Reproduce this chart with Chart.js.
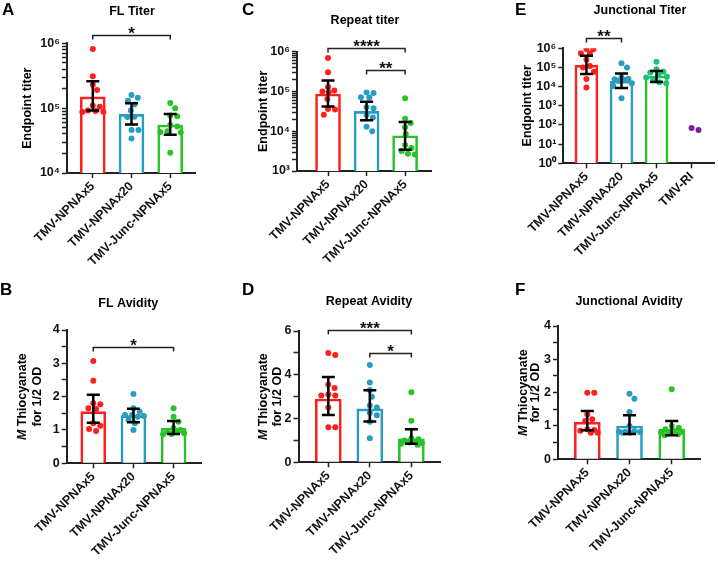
<!DOCTYPE html>
<html>
<head>
<meta charset="utf-8">
<script src="https://cdn.jsdelivr.net/npm/chart.js@4.4.1/dist/chart.umd.min.js"></script>
<style>
  body { margin: 0; background: #fff; }
  #fig { position: relative; width: 718px; height: 562px; overflow: hidden; }
  #fig canvas { position: absolute; }
</style>
</head>
<body>
<div id="fig"></div>
<script>
// ---- data ----
const groups = ['TMV-NPNAx5', 'TMV-NPNAx20', 'TMV-Junc-NPNAx5'];
const groupsE = ['TMV-NPNAx5', 'TMV-NPNAx20', 'TMV-Junc-NPNAx5', 'TMV-RI'];

// A - FL titer
const flTiterX5 = [8.2e5, 3.1e5, 2.3e5, 1.9e5, 1.1e5, 1.05e5, 9.2e4, 9.0e4, 8.8e4, 8.7e4];
const flTiterX20 = [1.6e5, 1.45e5, 1.3e5, 1.14e5, 9.2e4, 7.4e4, 7.3e4, 4.6e4, 4.6e4, 3.4e4];
const flTiterJunc = [1.2e5, 1.0e5, 7.7e4, 7.5e4, 5.5e4, 5.2e4, 4.4e4, 4.3e4, 4.2e4, 2.05e4];
const flTiterMean = [1.49e5, 8.0e4, 5.5e4];
const flTiterLo = [9.2e4, 5.6e4, 3.9e4];
const flTiterHi = [2.6e5, 1.19e5, 8.1e4];

// C - repeat titer
const repTiterX5 = [6.9e5, 3.05e5, 1.3e5, 1.06e5, 1.0e5, 9.6e4, 6.5e4, 3.6e4, 3.5e4, 2.6e4];
const repTiterX20 = [9.4e4, 9.1e4, 7.2e4, 7.1e4, 4.0e4, 3.8e4, 2.6e4, 2.2e4, 1.3e4, 1.0e4];
const repTiterJunc = [6.8e4, 2.05e4, 1.6e4, 1.26e4, 8.5e3, 4.5e3, 3.8e3, 3.2e3, 2.7e3, 2.6e3];
const repTiterMean = [8.6e4, 3.15e4, 7.7e3];
const repTiterLo = [4.2e4, 1.9e4, 3.4e3];
const repTiterHi = [1.9e5, 5.5e4, 1.7e4];

// E - junctional titer
const junTiterX5 = [9.2e5, 8.8e5, 5.5e5, 5.3e5, 2.5e5, 1.2e5, 1.0e5, 6.0e4, 2.5e4, 9.0e3];
const junTiterX20 = [1.65e5, 1.0e5, 3.0e4, 2.6e4, 2.4e4, 2.2e4, 2.0e4, 1.5e4, 1.07e4, 2.5e3];
const junTiterJunc = [2.0e5, 8.0e4, 6.0e4, 5.5e4, 4.0e4, 3.3e4, 3.0e4, 2.4e4, 1.7e4, 1.5e4];
const junTiterRI = [55, 70];
const junTiterMean = [1.3e5, 1.9e4, 3.6e4];
const junTiterLo = [4.6e4, 8.5e3, 1.75e4];
const junTiterHi = [4.1e5, 4.8e4, 6.6e4];

// B - FL avidity
const flAvidX5 = [3.07, 2.48, 1.8, 1.77, 1.65, 1.63, 1.2, 1.13, 1.03, 0.97];
const flAvidX20 = [2.08, 1.65, 1.55, 1.45, 1.45, 1.42, 1.4, 1.3, 1.2, 1.0];
const flAvidJunc = [1.65, 1.4, 1.25, 1.05, 1.0, 0.95, 0.93, 0.9, 0.88, 0.87];
const flAvidMean = [1.55, 1.43, 1.05];
const flAvidLo = [1.22, 1.23, 0.88];
const flAvidHi = [2.06, 1.64, 1.27];

// D - repeat avidity
const repAvidX5 = [5.0, 4.9, 3.55, 3.4, 3.1, 3.05, 3.05, 2.5, 1.6, 1.6];
const repAvidX20 = [4.45, 3.65, 3.3, 3.0, 2.6, 2.5, 2.25, 2.15, 1.85, 1.1];
const repAvidJunc = [3.2, 1.9, 1.1, 1.05, 1.0, 0.95, 0.9, 0.88, 0.85, 0.8];
const repAvidMean = [2.89, 2.44, 1.07];
const repAvidLo = [2.16, 1.86, 0.85];
const repAvidHi = [3.9, 3.29, 1.51];

// F - junctional avidity
const junAvidX5 = [2.0, 2.0, 1.35, 1.2, 1.15, 0.9, 0.88, 0.86, 0.8, 0.8];
const junAvidX20 = [1.97, 1.82, 1.42, 1.0, 0.85, 0.83, 0.83, 0.82, 0.8, 0.8];
const junAvidJunc = [2.1, 1.0, 0.95, 0.9, 0.85, 0.83, 0.8, 0.78, 0.75, 0.72];
const junAvidMean = [1.11, 1.0, 0.9];
const junAvidLo = [0.87, 0.76, 0.72];
const junAvidHi = [1.45, 1.32, 1.15];

// tick labels
const ticksA = [1e4, 1e5, 1e6];
const ticksC = [1e3, 1e4, 1e5, 1e6];
const ticksE = [1e0, 1e1, 1e2, 1e3, 1e4, 1e5, 1e6];
const ticksAvid4 = [0, 1, 2, 3, 4];
const ticksAvid6 = [0, 2, 4, 6];

// ---- styling ----
const RED = '#ff1f1f', BLUE = '#2a9cc0', GREEN = '#27c427', TEAL = '#1fc27a', PURPLE = '#7b1fa2';
const FONT = "'Liberation Sans', Arial, sans-serif";
const SUP = ['\u2070', '\u00b9', '\u00b2', '\u00b3', '\u2074', '\u2075', '\u2076'];
const R = 3;

function minorLog(decades) {
    const out = [];
    for (let i = 0; i < decades.length - 1; i++) {
        for (let k = 1; k < 10; k++) out.push(decades[i] * k);
    }
    out.push(decades[decades.length - 1]);
    return out;
}
function steps(labels, step) {
    const out = [];
    for (let v = labels[0]; v <= labels[labels.length - 1] + 1e-9; v += step) out.push(+v.toFixed(3));
    return out;
}

// beeswarm: push points sideways (within the bar) so they overlap less
function swarm(vals, center, frac, plotH, unitPx) {
    const placed = [];
    const order = vals.map((v, i) => i).sort((a, b) => vals[b] - vals[a]);
    const out = new Array(vals.length);
    const need = 2 * R + 0.8, maxOff = 11;
    for (const i of order) {
        const py = frac(vals[i]) * plotH;
        let best = 0, bestD = -1, px = null;
        for (let n = 0; ; n++) {
            const c = (n % 2 ? 1 : -1) * Math.ceil(n / 2) * 0.7;
            if (Math.abs(c) > maxOff) break;
            const d = placed.length ? Math.min(...placed.map(p => Math.hypot(p.px - c, p.py - py))) : 99;
            if (d >= need) { px = c; break; }
            if (d > bestD) { bestD = d; best = c; }
        }
        if (px === null) px = best;
        placed.push({ px, py });
        out[i] = { x: center + px / unitPx, y: vals[i] };
    }
    return out;
}

function makeDecor(p) {
    return {
        id: 'decor',
        afterDatasetsDraw(chart) {
            const { ctx, scales: { x, y } } = chart;
            ctx.save();
            ctx.strokeStyle = '#000';
            ctx.lineWidth = 2.5;
            p.lo.forEach((lo, i) => {
                const px = x.getPixelForValue(i + 1);
                const pl = y.getPixelForValue(lo), ph = y.getPixelForValue(p.hi[i]);
                ctx.beginPath();
                ctx.moveTo(px, pl); ctx.lineTo(px, ph);
                ctx.moveTo(px - 6.5, pl); ctx.lineTo(px + 6.5, pl);
                ctx.moveTo(px - 6.5, ph); ctx.lineTo(px + 6.5, ph);
                ctx.stroke();
            });
            ctx.restore();
        },
        afterDraw(chart) {
            const { ctx, scales: { x, y }, chartArea } = chart;
            const bx = p.box.x, by = p.box.y;
            ctx.save();
            // significance brackets
            (p.brackets || []).forEach(br => {
                const x1 = x.getPixelForValue(br.from), x2 = x.getPixelForValue(br.to);
                const yy = Math.round(y.getPixelForValue(br.y)) + 0.5;
                ctx.strokeStyle = '#222';
                ctx.lineWidth = 1.5;
                ctx.beginPath();
                ctx.moveTo(x1, yy + 4); ctx.lineTo(x1, yy); ctx.lineTo(x2, yy); ctx.lineTo(x2, yy + 4);
                ctx.stroke();
                ctx.fillStyle = '#111';
                ctx.font = 'bold 17px ' + FONT;
                ctx.textAlign = 'center';
                ctx.textBaseline = 'alphabetic';
                ctx.fillText(br.label, (x1 + x2) / 2, yy + 3);
            });
            // panel title
            ctx.fillStyle = '#000';
            ctx.font = 'bold 12.5px ' + FONT;
            ctx.textAlign = 'center';
            ctx.textBaseline = 'middle';
            ctx.fillText(p.title.text, p.title.x - bx, p.title.y - by);
            // panel letter
            ctx.font = 'bold 17px ' + FONT;
            ctx.textAlign = 'left';
            ctx.textBaseline = 'alphabetic';
            ctx.fillText(p.letter.text, p.letter.x - bx, p.letter.y - by);
            // y axis title
            const cy = (chartArea.top + chartArea.bottom) / 2;
            p.yTitle.forEach((line, li) => {
                ctx.save();
                ctx.translate(p.yTitleX[li] - bx, cy);
                ctx.rotate(-Math.PI / 2);
                ctx.textBaseline = 'middle';
                ctx.textAlign = 'left';
                const bold = 'bold 12.5px ' + FONT, ital = 'italic bold 12.5px ' + FONT;
                if (line.startsWith('M ')) {
                    ctx.font = ital;
                    const wM = ctx.measureText('M').width;
                    ctx.font = bold;
                    const rest = line.slice(1);
                    const wR = ctx.measureText(rest).width;
                    const x0 = -(wM + wR) / 2;
                    ctx.font = ital;
                    ctx.fillText('M', x0, 0);
                    ctx.font = bold;
                    ctx.fillText(rest, x0 + wM, 0);
                } else {
                    ctx.font = bold;
                    ctx.textAlign = 'center';
                    ctx.fillText(line, 0, 0);
                }
                ctx.restore();
            });
            ctx.restore();
        }
    };
}

function makePanel(p) {
    const fig = document.getElementById('fig');
    const cv = document.createElement('canvas');
    cv.width = p.box.w; cv.height = p.box.h;
    cv.style.left = p.box.x + 'px';
    cv.style.top = p.box.y + 'px';
    cv.style.width = p.box.w + 'px';
    cv.style.height = p.box.h + 'px';
    fig.appendChild(cv);

    const a = p.area, b = p.box;
    const YW = 40;
    const XH = b.y + b.h - a.b - 2;
    const plotH = a.b - a.t;
    const unitPx = (a.r - a.l) / (p.xMax - p.xMin);
    const frac = p.log
        ? v => (Math.log10(v) - Math.log10(p.yMin)) / (Math.log10(p.yMax) - Math.log10(p.yMin))
        : v => (v - p.yMin) / (p.yMax - p.yMin);

    const datasets = [{
        type: 'bar',
        order: 3,
        data: p.mean.map((v, i) => ({ x: i + 1, y: v })),
        backgroundColor: '#ffffff',
        borderColor: p.barColors,
        borderWidth: 2.6,
        barThickness: p.barW
    }];
    p.points.forEach((vals, i) => {
        datasets.push({
            type: 'scatter',
            order: 1,
            data: swarm(vals, i + 1, frac, plotH, unitPx),
            backgroundColor: p.ptColors[i],
            borderWidth: 0,
            pointRadius: R
        });
    });

    const tickFont = { family: FONT, size: 12.5, weight: 'bold' };
    const yLabels = p.yLabels;
    const allTicks = p.log ? (p.decadesOnly ? yLabels : minorLog(yLabels)) : steps(yLabels, p.yMinorStep);

    return new Chart(cv, {
        type: 'bar',
        data: { datasets },
        plugins: [makeDecor(p)],
        options: {
            responsive: false,
            animation: false,
            events: [],
            layout: {
                padding: {
                    left: a.l - b.x - YW,
                    right: b.x + b.w - a.r,
                    top: a.t - b.y,
                    bottom: 2
                }
            },
            plugins: { legend: { display: false }, tooltip: { enabled: false }, title: { display: false } },
            scales: {
                x: {
                    type: 'linear',
                    min: p.xMin,
                    max: p.xMax,
                    offset: false,
                    afterBuildTicks: s => { s.ticks = p.cats.map((c, i) => ({ value: i + 1 })); },
                    afterFit: s => { s.height = XH; },
                    ticks: {
                        callback: v => p.cats[Math.round(v) - 1],
                        minRotation: 45, maxRotation: 45,
                        autoSkip: false,
                        font: tickFont,
                        color: '#111',
                        padding: 1
                    },
                    grid: { display: true, offset: false, drawOnChartArea: false, drawTicks: true, tickLength: 5, tickColor: '#222', tickWidth: 1.5 },
                    border: { display: true, color: '#222', width: 2 }
                },
                y: {
                    type: p.log ? 'logarithmic' : 'linear',
                    min: p.yMin,
                    max: p.yMax,
                    afterBuildTicks: s => { s.ticks = allTicks.map(v => ({ value: v })); },
                    afterFit: s => { s.width = YW; },
                    ticks: {
                        autoSkip: false,
                        font: tickFont,
                        color: '#111',
                        padding: 2,
                        callback: v => {
                            if (p.log) {
                                const e = Math.round(Math.log10(v));
                                return yLabels.some(t => Math.abs(t - v) < v * 1e-6) ? '10' + SUP[e] : '';
                            }
                            return yLabels.some(t => Math.abs(t - v) < 1e-6) ? String(v) : '';
                        }
                    },
                    grid: { display: true, drawOnChartArea: false, drawTicks: true, tickLength: 5, tickColor: '#222', tickWidth: 1.5 },
                    border: { display: true, color: '#222', width: 2 }
                }
            }
        }
    });
}

const BAR3 = [RED, BLUE, GREEN];
const titerTitle = ['Endpoint titer'];
const avidTitle = ['M Thiocyanate', 'for 1/2 OD'];

// A
makePanel({
    box: { x: 0, y: 0, w: 230, h: 280 }, area: { l: 67, r: 195, t: 43.3, b: 173 },
    xMin: 0.334, xMax: 3.64, log: true, yMin: 1e4, yMax: 1e6, yLabels: ticksA,
    cats: groups, mean: flTiterMean, lo: flTiterLo, hi: flTiterHi,
    points: [flTiterX5, flTiterX20, flTiterJunc], ptColors: BAR3, barColors: BAR3, barW: 25,
    brackets: [{ from: 1, to: 3, y: 1.34e6, label: '*' }],
    title: { text: 'FL Titer', x: 132, y: 12 }, letter: { text: 'A', x: 2, y: 14.5 },
    yTitle: titerTitle, yTitleX: [28]
});
// C
makePanel({
    box: { x: 230, y: 0, w: 235, h: 280 }, area: { l: 297, r: 431.7, t: 51.7, b: 171 },
    xMin: 0.195, xMax: 3.69, log: true, yMin: 1e3, yMax: 1e6, yLabels: ticksC,
    cats: groups, mean: repTiterMean, lo: repTiterLo, hi: repTiterHi,
    points: [repTiterX5, repTiterX20, repTiterJunc], ptColors: BAR3, barColors: BAR3, barW: 25,
    brackets: [{ from: 1, to: 3, y: 1.24e6, label: '****' }, { from: 2, to: 3, y: 3.5e5, label: '**' }],
    title: { text: 'Repeat titer', x: 365, y: 20.7 }, letter: { text: 'C', x: 242, y: 15 },
    yTitle: titerTitle, yTitleX: [263.3]
});
// E
makePanel({
    box: { x: 465, y: 0, w: 253, h: 280 }, area: { l: 563.3, r: 716, t: 48.3, b: 163.3 },
    xMin: 0.34, xMax: 4.64, log: true, yMin: 1e0, yMax: 1e6, yLabels: ticksE,
    cats: groupsE, mean: junTiterMean, lo: junTiterLo, hi: junTiterHi,
    points: [junTiterX5, junTiterX20, junTiterJunc, junTiterRI], ptColors: [RED, BLUE, TEAL, PURPLE], barColors: BAR3, barW: 23,
    brackets: [{ from: 1, to: 2, y: 3.3e6, label: '**' }],
    title: { text: 'Junctional Titer', x: 640, y: 10.7 }, letter: { text: 'E', x: 515, y: 15 },
    yTitle: titerTitle, yTitleX: [528], decadesOnly: true
});
// B
makePanel({
    box: { x: 0, y: 280, w: 230, h: 282 }, area: { l: 66.7, r: 201.7, t: 330, b: 463.3 },
    xMin: 0.338, xMax: 3.70, log: false, yMin: 0, yMax: 4, yLabels: ticksAvid4, yMinorStep: 0.5,
    cats: groups, mean: flAvidMean, lo: flAvidLo, hi: flAvidHi,
    points: [flAvidX5, flAvidX20, flAvidJunc], ptColors: BAR3, barColors: BAR3, barW: 25,
    brackets: [{ from: 1, to: 3, y: 3.5, label: '*' }],
    title: { text: 'FL Avidity', x: 128.3, y: 304 }, letter: { text: 'B', x: 0, y: 295 },
    yTitle: avidTitle, yTitleX: [22.7, 37.3]
});
// D
makePanel({
    box: { x: 230, y: 280, w: 235, h: 282 }, area: { l: 298.5, r: 440, t: 331, b: 462.3 },
    xMin: 0.282, xMax: 3.69, log: false, yMin: 0, yMax: 6, yLabels: ticksAvid6, yMinorStep: 1,
    cats: groups, mean: repAvidMean, lo: repAvidLo, hi: repAvidHi,
    points: [repAvidX5, repAvidX20, repAvidJunc], ptColors: BAR3, barColors: BAR3, barW: 26,
    brackets: [{ from: 1, to: 3, y: 6.05, label: '***' }, { from: 2, to: 3, y: 5.0, label: '*' }],
    title: { text: 'Repeat Avidity', x: 369, y: 302 }, letter: { text: 'D', x: 242, y: 295 },
    yTitle: avidTitle, yTitleX: [263.3, 277.7]
});
// F
makePanel({
    box: { x: 465, y: 280, w: 253, h: 282 }, area: { l: 558, r: 700, t: 326, b: 459.3 },
    xMin: 0.306, xMax: 3.67, log: false, yMin: 0, yMax: 4, yLabels: ticksAvid4, yMinorStep: 0.5,
    cats: groups, mean: junAvidMean, lo: junAvidLo, hi: junAvidHi,
    points: [junAvidX5, junAvidX20, junAvidJunc], ptColors: BAR3, barColors: BAR3, barW: 26,
    brackets: [],
    title: { text: 'Junctional Avidity', x: 629, y: 302 }, letter: { text: 'F', x: 515, y: 295 },
    yTitle: avidTitle, yTitleX: [523.3, 536]
});
</script>
</body>
</html>
